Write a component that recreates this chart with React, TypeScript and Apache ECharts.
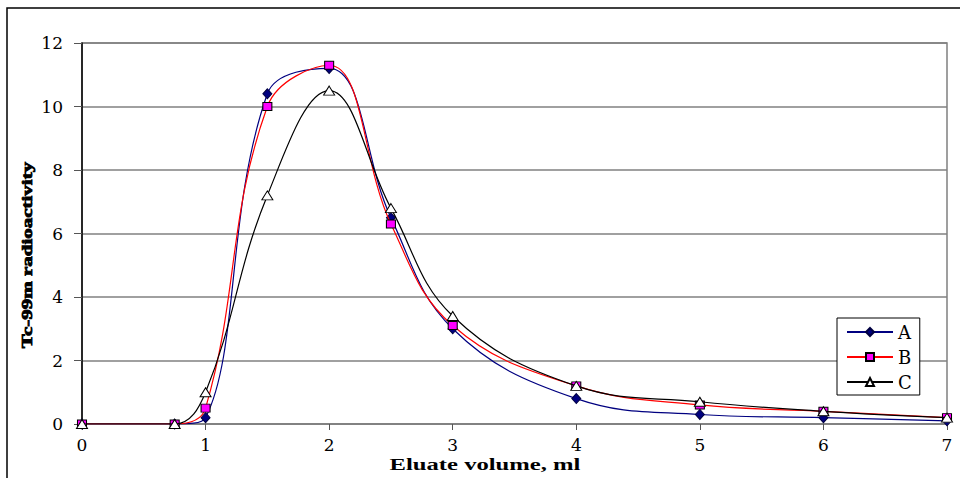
import React, { useEffect, useRef } from "react";
import * as echarts from "echarts";

const volumes = [0, 0.75, 1, 1.5, 2, 2.5, 3, 4, 5, 6, 7];
const seriesA = [0, 0, 0.2, 10.4, 11.2, 6.5, 3.0, 0.8, 0.3, 0.2, 0.1];
const seriesB = [0, 0, 0.5, 10.0, 11.3, 6.3, 3.1, 1.2, 0.6, 0.4, 0.2];
const seriesC = [0, 0, 1.0, 7.2, 10.5, 6.8, 3.4, 1.2, 0.7, 0.4, 0.2];
const seriesNames = ["A", "B", "C"];
const xAxisTitle = "Eluate volume, ml";
const yAxisTitle = "Tc-99m radioactivity";

const FONT = "'Liberation Serif', 'Times New Roman', serif";
const WIDE = "'DejaVu Serif', serif";

function pairs(vals: number[]) {
  return volumes.map((x, i) => [x, vals[i]]);
}

export default function App() {
  const ref = useRef<HTMLDivElement>(null);
  useEffect(() => {
    if (!ref.current) return;
    const chart = echarts.init(ref.current, null, { renderer: "svg" });
    chart.setOption({
      animation: false,
      backgroundColor: "#ffffff",
      grid: {
        left: 82,
        right: 13,
        top: 43,
        bottom: 54,
        show: true,
        borderColor: "#808080",
        borderWidth: 1.5,
        backgroundColor: "transparent",
      },
      legend: {
        orient: "vertical",
        left: 837,
        top: 318,
        data: seriesNames,
        itemWidth: 46,
        itemHeight: 10,
        itemGap: 7,
        padding: [5, 8, 4, 9],
        borderColor: "#000",
        borderWidth: 1,
        backgroundColor: "#fff",
        textStyle: { fontFamily: WIDE, fontSize: 18, color: "#000", lineHeight: 18 },
      },
      xAxis: {
        type: "value",
        min: 0,
        max: 7,
        interval: 1,
        axisLine: { show: true, lineStyle: { color: "#808080", width: 1.5 } },
        axisTick: { show: true, length: 6, lineStyle: { color: "#555" } },
        splitLine: { show: false },
        axisLabel: { fontFamily: WIDE, fontSize: 17, color: "#000", margin: 12 },
      },
      yAxis: {
        type: "value",
        min: 0,
        max: 12,
        interval: 2,
        axisLine: { show: true, lineStyle: { color: "#000", width: 1.5 } },
        axisTick: { show: true, length: 8, lineStyle: { color: "#555" } },
        splitLine: { show: true, lineStyle: { color: "#808080", width: 1.5 } },
        axisLabel: { fontFamily: WIDE, fontSize: 17, color: "#000", margin: 19 },
      },
      graphic: [
        {
          type: "rect",
          shape: { x: 7, y: 8, width: 2000, height: 2000 },
          style: { fill: "none", stroke: "#000", lineWidth: 1.5 },
          silent: true,
        },
        {
          type: "text",
          x: 485,
          y: 464,
          scaleX: 1.45,
          style: {
            text: xAxisTitle,
            fontFamily: FONT,
            fontSize: 17,
            fontWeight: "bold",
            fill: "#000",
            align: "center",
            verticalAlign: "middle",
          },
        },
        {
          type: "text",
          x: 27,
          y: 255,
          rotation: Math.PI / 2,
          scaleX: 1.4,
          style: {
            text: yAxisTitle,
            fontFamily: FONT,
            fontSize: 15,
            fontWeight: "bold",
            fill: "#000",
            stroke: "#000",
            lineWidth: 0.8,
            align: "center",
            verticalAlign: "middle",
          },
        },
      ],
      series: [
        {
          name: "A",
          type: "line",
          data: pairs(seriesA),
          smooth: 0.4,
          symbol: "diamond",
          symbolSize: [9, 10],
          lineStyle: { color: "#000080", width: 1.2 },
          itemStyle: { color: "#000080", borderColor: "#000040", borderWidth: 1 },
          z: 2,
        },
        {
          name: "B",
          type: "line",
          data: pairs(seriesB),
          smooth: 0.4,
          symbol: "rect",
          symbolSize: [9, 8],
          lineStyle: { color: "#ff0000", width: 1.2 },
          itemStyle: { color: "#ff00ff", borderColor: "#000", borderWidth: 1 },
          z: 3,
        },
        {
          name: "C",
          type: "line",
          data: pairs(seriesC),
          smooth: 0.4,
          symbol: "triangle",
          symbolSize: [11, 9],
          lineStyle: { color: "#000", width: 1.2 },
          itemStyle: { color: "#fff", borderColor: "#000", borderWidth: 1 },
          z: 4,
        },
      ],
    });
    return () => chart.dispose();
  }, []);
  return <div ref={ref} style={{ width: 960, height: 478, position: "absolute", left: 0, top: 0 }} />;
}
